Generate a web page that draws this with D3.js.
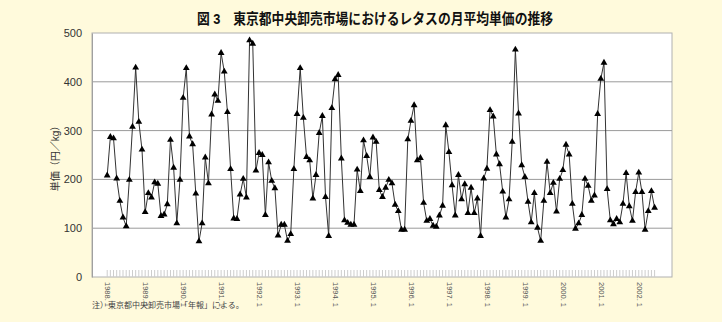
<!DOCTYPE html>
<html><head><meta charset="utf-8">
<script src="https://cdn.jsdelivr.net/npm/d3@7"></script>
<style>
html,body{margin:0;padding:0;background:#FFFADC;}
svg{display:block;}
text{font-family:"Liberation Sans","Noto Sans CJK JP",sans-serif;}
</style></head>
<body>
<script>
// ---- data ----
const title = "図 3　東京都中央卸売市場におけるレタスの月平均単価の推移";
const yTitle = "単価（円／kg）";
const note = "注）東京都中央卸売市場「年報」による。";
const startYear = 1988;
const prices = [
 208,287,284,202,156,122,104,199,308,429,318,261,
 133,172,163,194,191,125,128,149,281,224,110,199,
 367,428,288,272,171,73,110,245,192,333,374,361,
 459,421,338,221,120,119,169,201,163,485,478,218,
 254,250,127,235,197,182,85,107,107,74,88,221,
 334,428,326,246,239,161,209,295,330,164,84,346,
 405,414,243,116,111,107,107,220,176,280,248,205,
 286,277,178,164,183,199,192,148,135,97,97,282,
 320,352,239,244,152,115,119,105,103,126,146,311,
 256,188,126,209,159,190,131,183,131,161,84,202,
 222,342,329,251,231,175,122,159,277,466,335,229,
 205,154,112,172,101,74,156,236,172,193,134,201,
 219,271,251,150,99,110,127,201,187,156,167,334,
 406,439,180,116,108,119,112,150,213,145,115,174,
 214,174,97,135,176,142
];
const yTicks = [0,100,200,300,400,500];
const xTickLabels = ["1988. 1","1989. 1","1990. 1","1991. 1","1992. 1","1993. 1","1994. 1","1995. 1","1996. 1","1997. 1","1998. 1","1999. 1","2000. 1","2001. 1","2002. 1"];

// ---- layout ----
const W = 722, H = 322;
const pL = 92, pR = 672, pT = 33, pB = 277;
const svg = d3.select("body").append("svg").attr("width", W).attr("height", H);

const x = d3.scaleLinear().domain([-4.8, 178.5]).range([pL, pR]);
const y = d3.scaleLinear().domain([0, 500]).range([pB, pT]);

// plot area
svg.append("rect").attr("x", pL).attr("y", pT).attr("width", pR-pL).attr("height", pB-pT)
  .attr("fill", "#fff").attr("stroke", "#b0b0b0").attr("stroke-width", 1);

// gridlines
svg.append("g").selectAll("line").data(yTicks.filter(d => d > 0 && d < 500)).join("line")
  .attr("x1", pL).attr("x2", pR).attr("y1", d => y(d)).attr("y2", d => y(d))
  .attr("stroke", "#9a9a9a").attr("stroke-width", 1);

// y axis
const yAxis = d3.axisLeft(y).tickValues(yTicks).tickSize(0).tickPadding(10);
const gy = svg.append("g").attr("transform", `translate(${pL},0)`).call(yAxis);
gy.select(".domain").attr("stroke", "#a0a0a0");
gy.selectAll("text").attr("font-size", 11).attr("fill", "#333")
  .attr("font-family", "'Liberation Sans', sans-serif");

// minor month ticks
svg.append("g").selectAll("line").data(d3.range(prices.length)).join("line")
  .attr("x1", i => x(i)).attr("x2", i => x(i)).attr("y1", pB - 7).attr("y2", pB)
  .attr("stroke", "#cdcdcd").attr("stroke-width", 1);

// x labels
svg.append("g").selectAll("text").data(xTickLabels).join("text")
  .attr("transform", (d, k) => `translate(${x(k*12)},${pB + 5}) rotate(90)`)
  .attr("dominant-baseline", "middle").attr("text-anchor", "start")
  .attr("font-size", 7.5).attr("fill", "#555").text(d => d);

// line
const line = d3.line().x((d, i) => x(i)).y(d => y(d));
svg.append("path").datum(prices).attr("d", line).attr("fill", "none")
  .attr("stroke", "#333").attr("stroke-width", 1);

// markers
const tri = d3.symbol().type(d3.symbolTriangle).size(20);
svg.append("g").selectAll("path").data(prices).join("path")
  .attr("transform", (d, i) => `translate(${x(i)},${y(d)})`)
  .attr("d", tri).attr("fill", "#000");

// title
svg.append("text").attr("x", 197).attr("y", 24).attr("font-size", 14.5).attr("font-weight", "bold")
  .attr("textLength", 356).attr("lengthAdjust", "spacingAndGlyphs")
  .attr("fill", "#111").attr("font-family", "'Noto Sans CJK JP', sans-serif").text(title);

// y title
svg.append("text").attr("transform", `translate(56,156) rotate(-90)`)
  .attr("text-anchor", "middle").attr("dominant-baseline", "middle")
  .attr("font-size", 10).attr("fill", "#333").attr("font-family", "'Noto Sans CJK JP', sans-serif").text(yTitle);

// note
svg.append("text").attr("x", pL).attr("y", 308).attr("font-size", 8).attr("fill", "#444")
  .attr("font-family", "'Noto Sans CJK JP', sans-serif").text(note);
</script>
</body></html>
